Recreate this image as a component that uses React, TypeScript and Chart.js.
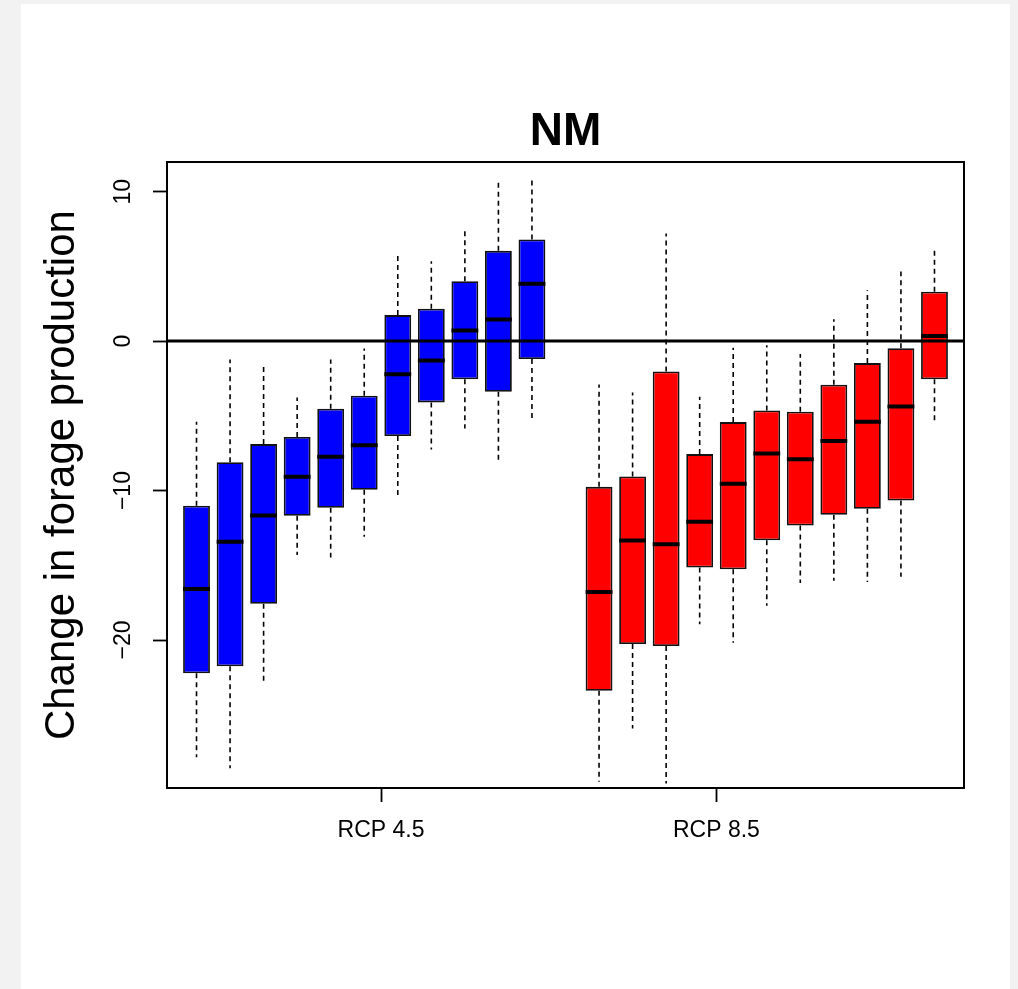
import React, { useEffect, useRef } from "react";
import { Chart, registerables } from "chart.js";

Chart.register(...registerables);

// ---- data ----
const TITLE = "NM";
const Y_TITLE = "Change in forage production";
const POSITIONS = [1, 2, 3, 4, 5, 6, 7, 8, 9, 10, 11, 13, 14, 15, 16, 17, 18, 19, 20, 21, 22, 23];
const SCENARIOS = [
  "RCP 4.5", "RCP 4.5", "RCP 4.5", "RCP 4.5", "RCP 4.5", "RCP 4.5", "RCP 4.5", "RCP 4.5", "RCP 4.5", "RCP 4.5", "RCP 4.5",
  "RCP 8.5", "RCP 8.5", "RCP 8.5", "RCP 8.5", "RCP 8.5", "RCP 8.5", "RCP 8.5", "RCP 8.5", "RCP 8.5", "RCP 8.5", "RCP 8.5",
];
const WHISKER_HIGH = [-5.4, -1.23, -1.54, -3.77, -1.23, -0.49, 5.8, 5.35, 7.36, 10.77, 10.82,
  -2.9, -3.44, 7.2, -3.73, -0.45, -0.27, -0.87, 1.47, 3.41, 4.66, 6.29];
const Q3 = [-11.02, -8.11, -6.89, -6.42, -4.53, -3.66, 1.74, 2.16, 4.01, 6.04, 6.8,
  -9.75, -9.06, -2.03, -7.56, -5.42, -4.64, -4.73, -2.92, -1.47, -0.47, 3.3];
const MEDIAN = [-16.59, -13.42, -11.66, -9.08, -7.74, -6.96, -2.21, -1.29, 0.71, 1.45, 3.83,
  -16.78, -13.34, -13.59, -12.09, -9.55, -7.52, -7.9, -6.69, -5.4, -4.37, 0.34];
const Q1 = [-22.23, -21.76, -17.57, -11.68, -11.15, -9.95, -6.35, -4.1, -2.56, -3.39, -1.2,
  -23.4, -20.27, -20.4, -15.15, -15.26, -13.32, -12.34, -11.62, -11.22, -10.66, -2.56];
const WHISKER_LOW = [-27.85, -28.58, -22.9, -14.31, -14.47, -13.09, -10.46, -7.25, -5.84, -8.14, -5.17,
  -29.49, -25.92, -29.6, -18.95, -20.19, -17.71, -16.18, -16.04, -16.11, -15.77, -5.55];
const REFERENCE_VALUE = 0;

const X_TICK_POSITIONS = [6.5, 16.5];
const X_TICK_LABELS = ["RCP 4.5", "RCP 8.5"];
const Y_TICK_VALUES = [-20, -10, 0, 10];
const Y_TICK_LABELS = ["\u221220", "\u221210", "0", "10"];
const X_MIN = 0.12;
const X_MAX = 23.88;
const Y_MIN = -29.9;
const Y_MAX = 11.97;

const SCENARIO_COLORS: Record<string, string> = { "RCP 4.5": "#0000ff", "RCP 8.5": "#ff0000" };
const BOX_WIDTH = 0.8;

export default function App() {
  const ref = useRef<HTMLCanvasElement>(null);

  useEffect(() => {
    const canvas = ref.current;
    if (!canvas) return;
    Chart.defaults.font.family = "'Liberation Sans', Arial, sans-serif";

    const boxes = POSITIONS.map((x, i) => ({ x, y: [Q1[i], Q3[i]] }));
    const medians = POSITIONS.map((x, i) => ({ x, y: MEDIAN[i] }));
    const whiskers: any[] = [];
    POSITIONS.forEach((x, i) => {
      whiskers.push({ x, y: Q3[i] }, { x, y: WHISKER_HIGH[i] }, { x, y: null });
      whiskers.push({ x, y: Q1[i] }, { x, y: WHISKER_LOW[i] }, { x, y: null });
    });
    const colors = SCENARIOS.map((s) => SCENARIO_COLORS[s]);

    const chart = new Chart(canvas, {
      type: "bar",
      data: {
        datasets: [
          {
            type: "line",
            data: [{ x: X_MIN, y: REFERENCE_VALUE }, { x: X_MAX, y: REFERENCE_VALUE }],
            borderColor: "#000",
            borderWidth: 3,
            pointRadius: 0,
            order: 0,
          } as any,
          {
            type: "scatter",
            data: medians,
            pointStyle: "line",
            pointRadius: (ctx: any) => {
              const s = ctx.chart.scales.x;
              return Math.abs(s.getPixelForValue(BOX_WIDTH) - s.getPixelForValue(0)) / 2;
            },
            pointBorderWidth: 4,
            pointBorderColor: "#000",
            pointBackgroundColor: "#000",
            order: 1,
          } as any,
          {
            type: "bar",
            data: boxes,
            backgroundColor: colors,
            borderColor: "#111",
            borderWidth: 1.8,
            borderSkipped: false,
            barPercentage: BOX_WIDTH,
            categoryPercentage: 1,
            order: 2,
          } as any,
          {
            type: "line",
            data: whiskers,
            borderColor: "#000",
            borderWidth: 1.6,
            borderDash: [5, 4],
            pointRadius: 0,
            spanGaps: false,
            order: 3,
          } as any,
        ],
      },
      options: {
        animation: false,
        responsive: true,
        maintainAspectRatio: false,
        layout: { padding: { left: 0, right: 46, top: 0, bottom: 0 } },
        plugins: {
          legend: { display: false },
          tooltip: { enabled: false },
          title: {
            display: true,
            text: TITLE,
            color: "#000",
            font: { size: 46, weight: "bold" },
            padding: { top: 101, bottom: 2 },
            fullSize: false,
          } as any,
        },
        scales: {
          x: {
            type: "linear",
            position: "bottom",
            min: X_MIN,
            max: X_MAX,
            offset: false,
            bounds: "data",
            afterBuildTicks: (s: any) => {
              s.ticks = X_TICK_POSITIONS.map((v) => ({ value: v }));
            },
            afterFit: (s: any) => {
              s.height = 201;
            },
            ticks: {
              callback: (_v: any, i: number) => X_TICK_LABELS[i],
              color: "#000",
              font: { size: 23 },
              padding: 15,
              maxRotation: 0,
              minRotation: 0,
              autoSkip: false,
            },
            grid: {
              display: true,
              drawOnChartArea: false,
              drawTicks: true,
              tickLength: 14,
              tickColor: "#000",
              tickWidth: 1.8,
              offset: false,
              color: "transparent",
            },
            border: { display: true, color: "#000", width: 2 },
          } as any,
          x2: {
            type: "linear",
            position: "top",
            display: true,
            offset: false,
            ticks: { display: false },
            grid: { display: false, drawTicks: false },
            border: { display: true, color: "#000", width: 2 },
            afterFit: (s: any) => {
              s.height = 0;
            },
          } as any,
          y: {
            type: "linear",
            position: "left",
            min: Y_MIN,
            max: Y_MAX,
            bounds: "data",
            afterBuildTicks: (s: any) => {
              s.ticks = Y_TICK_VALUES.map((v) => ({ value: v }));
            },
            afterFit: (s: any) => {
              s.width = 146;
            },
            ticks: {
              callback: (_v: any, i: number) => Y_TICK_LABELS[i],
              color: "#000",
              font: { size: 23 },
              padding: 9.5,
              crossAlign: "center",
              minRotation: 90,
              maxRotation: 90,
              autoSkip: false,
            },
            grid: {
              display: true,
              drawOnChartArea: false,
              drawTicks: true,
              tickLength: 14,
              tickColor: "#000",
              tickWidth: 1.8,
              color: "transparent",
            },
            border: { display: true, color: "#000", width: 2 },
            title: {
              display: true,
              text: Y_TITLE,
              color: "#000",
              font: { size: 42 },
              padding: { top: 16, bottom: 0 },
            },
          } as any,
          y2: {
            type: "linear",
            position: "right",
            display: true,
            ticks: { display: false },
            grid: { display: false, drawTicks: false },
            border: { display: true, color: "#000", width: 2 },
            afterFit: (s: any) => {
              s.width = 0;
            },
          } as any,
        },
      },
    });

    return () => chart.destroy();
  }, []);

  return (
    <div
      style={{
        position: "absolute",
        left: 0,
        top: 0,
        width: 1018,
        height: 989,
        background: "#f2f2f2",
        overflow: "hidden",
      }}
    >
      <div
        style={{
          position: "absolute",
          left: 21,
          top: 4,
          width: 989,
          height: 985,
          background: "#ffffff",
        }}
      >
        <canvas ref={ref} style={{ display: "block", width: 989, height: 985 }} />
      </div>
    </div>
  );
}
